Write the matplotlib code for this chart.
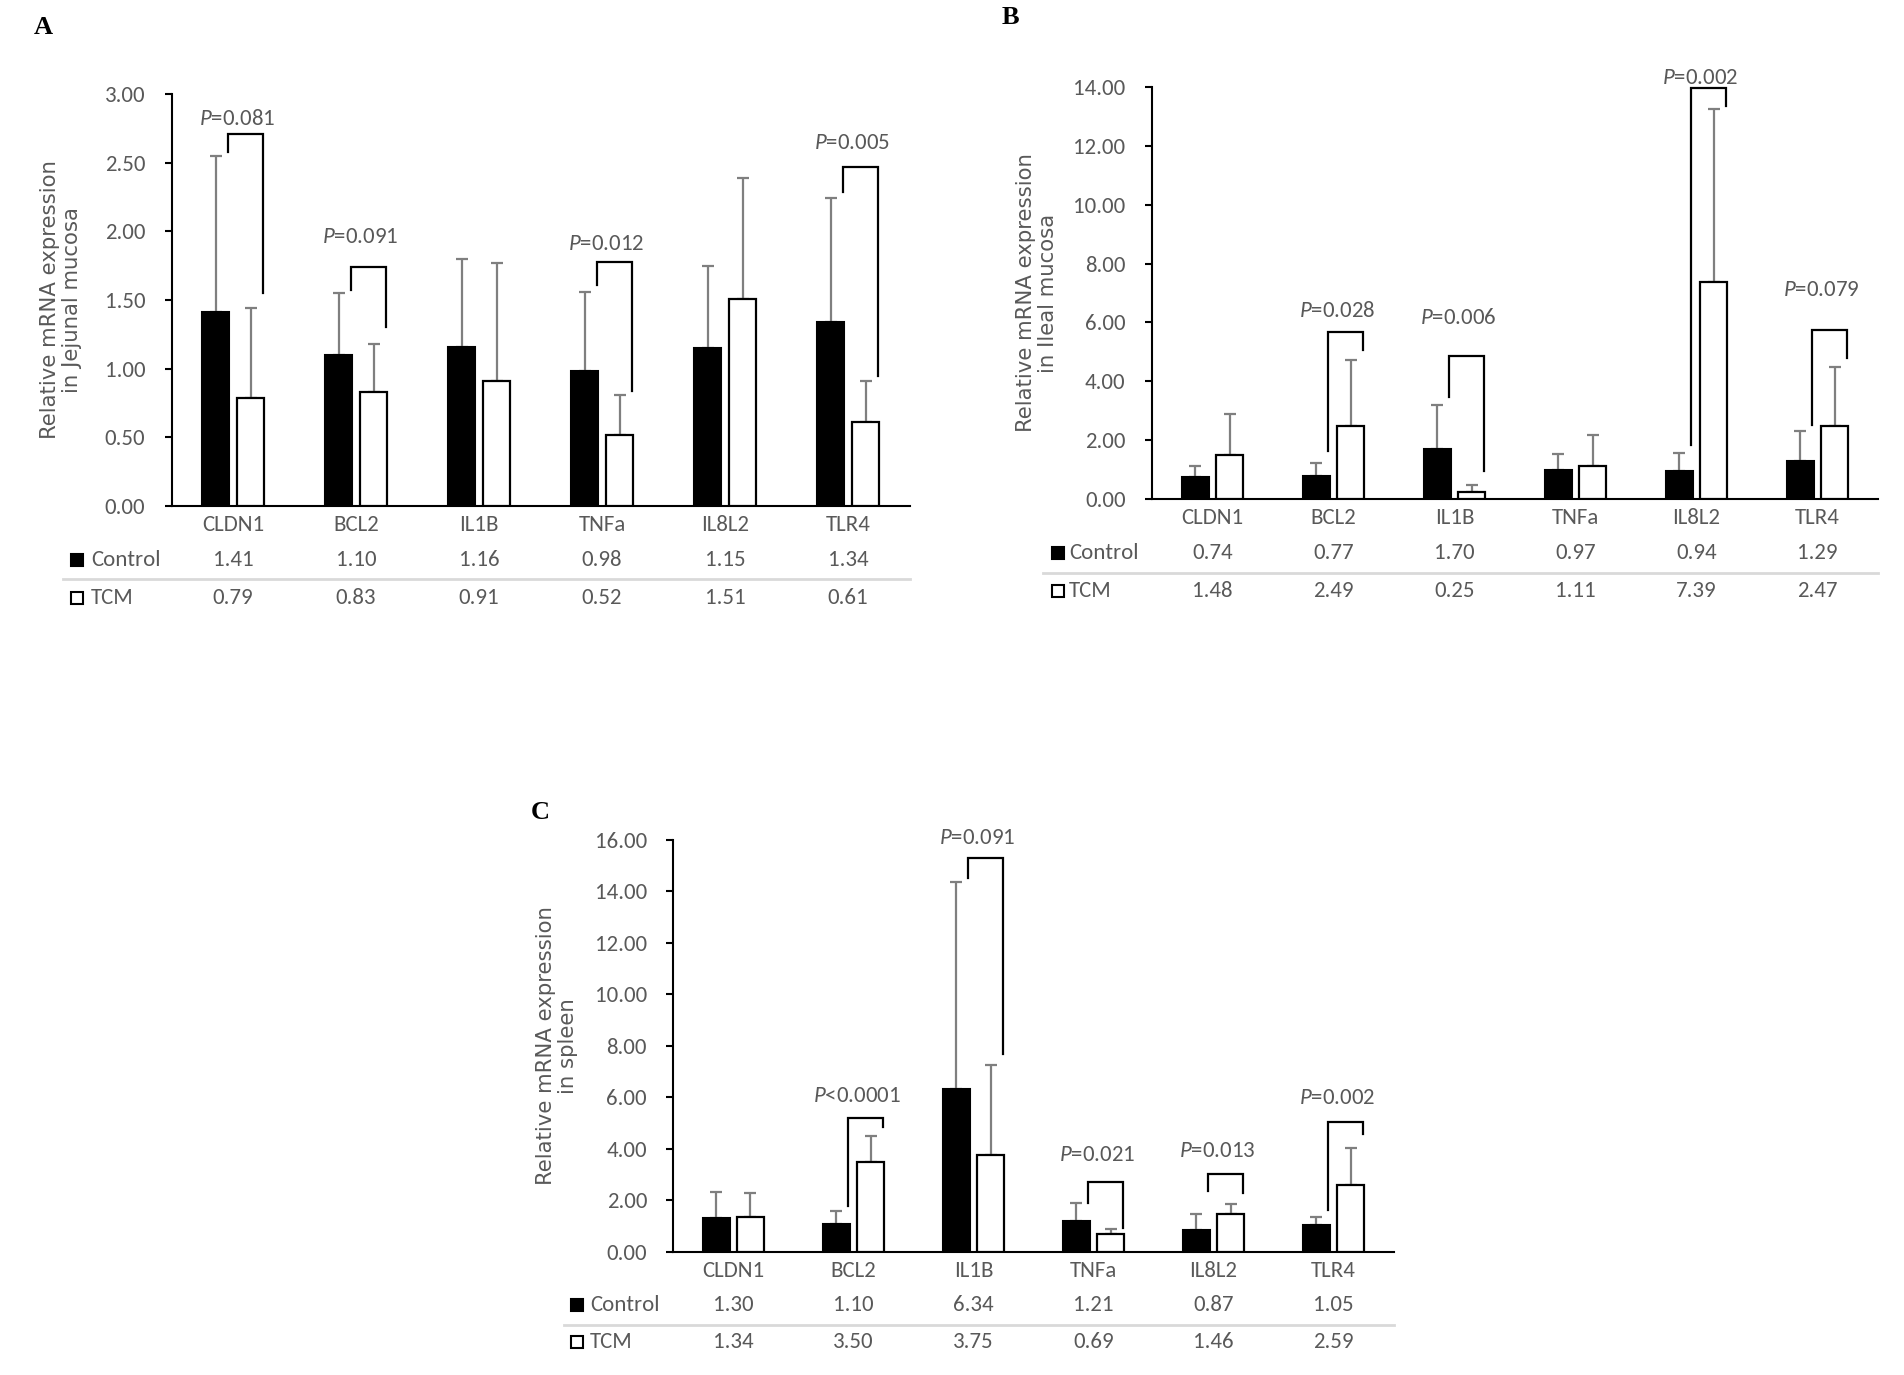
import matplotlib
matplotlib.use('Agg')
import matplotlib.pyplot as plt
import matplotlib.transforms as mtransforms
import numpy as np

plt.rcParams['mathtext.fontset'] = 'custom'
plt.rcParams['mathtext.it'] = 'Carlito:italic'
plt.rcParams['mathtext.rm'] = 'Carlito'

categories = ['CLDN1', 'BCL2', 'IL1B', 'TNFa', 'IL8L2', 'TLR4']
series_names = ['Control', 'TCM']

# ---- Panel A: Jejunal mucosa ----
a_control = [1.41, 1.10, 1.16, 0.98, 1.15, 1.34]
a_tcm = [0.79, 0.83, 0.91, 0.52, 1.51, 0.61]
a_control_top = [2.55, 1.55, 1.80, 1.56, 1.75, 2.24]
a_tcm_top = [1.44, 1.18, 1.77, 0.81, 2.39, 0.91]
a_br_idx = [0, 1, 3, 5]
a_br_top = [2.71, 1.74, 1.78, 2.47]
a_br_left = [2.58, 1.57, 1.61, 2.29]
a_br_right = [1.55, 1.30, 0.84, 0.95]
a_p_y = [2.82, 1.96, 1.91, 2.64]
a_p_text = ['=0.081', '=0.091', '=0.012', '=0.005']

# ---- Panel B: Ileal mucosa ----
b_control = [0.74, 0.77, 1.70, 0.97, 0.94, 1.29]
b_tcm = [1.48, 2.49, 0.25, 1.11, 7.39, 2.47]
b_control_top = [1.12, 1.24, 3.19, 1.52, 1.57, 2.32]
b_tcm_top = [2.89, 4.73, 0.49, 2.18, 13.27, 4.47]
b_br_idx = [1, 2, 4, 5]
b_br_top = [5.69, 4.87, 13.96, 5.73]
b_br_left = [1.62, 3.47, 1.83, 2.53]
b_br_right = [5.08, 0.96, 13.34, 4.78]
b_p_y = [6.39, 6.14, 14.30, 7.10]
b_p_text = ['=0.028', '=0.006', '=0.002', '=0.079']

# ---- Panel C: Spleen ----
c_control = [1.30, 1.10, 6.34, 1.21, 0.87, 1.05]
c_tcm = [1.34, 3.50, 3.75, 0.69, 1.46, 2.59]
c_control_top = [2.32, 1.58, 14.38, 1.89, 1.47, 1.37]
c_tcm_top = [2.29, 4.50, 7.26, 0.88, 1.87, 4.03]
c_br_idx = [1, 2, 3, 4, 5]
c_br_top = [5.21, 15.29, 2.73, 3.02, 5.06]
c_br_left = [1.77, 14.53, 1.92, 2.36, 1.62]
c_br_right = [4.84, 7.70, 0.93, 2.29, 4.57]
c_p_y = [6.05, 16.08, 3.76, 3.91, 5.97]
c_p_text = ['<0.0001', '=0.091', '=0.021', '=0.013', '=0.002']

GRAY = '#595959'
FONT = ['Carlito', 'DejaVu Sans']
FS = 16.5

fig = plt.figure(figsize=(19.04, 13.75), dpi=100)


def panel(rect, letter, letter_xy, ylabel, ylabel_x, ymax, ystep,
          control, tcm, control_top, tcm_top,
          br_idx, br_top, br_left, br_right, p_y, p_text,
          row_y, sep_y, leg_x, txt_x, sep_x0):
    ax = fig.add_axes(rect)
    x = np.arange(len(categories))
    w = 0.225
    off = 0.142
    cerr = np.array(control_top) - np.array(control)
    terr = np.array(tcm_top) - np.array(tcm)
    ax.errorbar(x - off, control, yerr=[np.zeros_like(cerr), cerr], fmt='none',
                ecolor='#7f7f7f', elinewidth=1.6, capsize=4, capthick=1.6, zorder=2)
    ax.errorbar(x + off, tcm, yerr=[np.zeros_like(terr), terr], fmt='none',
                ecolor='#7f7f7f', elinewidth=1.6, capsize=4, capthick=1.6, zorder=2)
    ax.bar(x - off, control, w, color='black', edgecolor='black', linewidth=1.5, zorder=3)
    ax.bar(x + off, tcm, w, color='white', edgecolor='black', linewidth=1.6, zorder=3)
    for i, t, l, r, py, pt in zip(br_idx, br_top, br_left, br_right, p_y, p_text):
        xl = i - off + 0.1
        xr = i + off + 0.1
        ax.plot([xl, xl, xr, xr], [l, t, t, r], color='black', linewidth=1.6,
                solid_joinstyle='miter', clip_on=False, zorder=4)
        ax.text(i + 0.03, py, r'$\mathit{P}$' + pt, ha='center', va='center',
                fontsize=FS, color=GRAY, family=FONT, clip_on=False)
    ax.set_xlim(-0.5, len(categories) - 0.5)
    ax.set_ylim(0, ymax)
    yt = np.arange(0, ymax + ystep / 2, ystep)
    ax.set_yticks(yt, ['%.2f' % v for v in yt])
    ax.set_xticks(x, categories)
    ax.tick_params(axis='both', labelsize=FS, labelcolor=GRAY)
    ax.tick_params(axis='y', length=5, width=1.5, pad=14)
    ax.tick_params(axis='x', length=0, pad=6.5)
    for lab in ax.get_xticklabels() + ax.get_yticklabels():
        lab.set_family(FONT)
    for s in ['top', 'right']:
        ax.spines[s].set_visible(False)
    ax.spines['left'].set_linewidth(1.5)
    ax.spines['bottom'].set_linewidth(1.5)
    ax.set_ylabel(ylabel, fontsize=15.3, color=GRAY, family='DejaVu Sans',
                  linespacing=1.15, va='center')
    ax.yaxis.set_label_coords(ylabel_x, 0.5)
    # data table beneath
    trans = mtransforms.blended_transform_factory(ax.transData, ax.transAxes)
    for vals, ry in zip([control, tcm], row_y):
        for xi, v in zip(x, vals):
            ax.text(xi, ry, '%.2f' % v, transform=trans, ha='center', va='center',
                    fontsize=FS, color=GRAY, family=FONT)
    for name, ry, fc in zip(series_names, row_y, ['black', 'white']):
        ax.plot([leg_x], [ry], marker='s', markersize=8.6, markerfacecolor=fc,
                markeredgecolor='black', markeredgewidth=1.5, transform=ax.transAxes,
                clip_on=False)
        ax.text(txt_x, ry, name, transform=ax.transAxes, ha='left', va='center',
                fontsize=FS, color=GRAY, family=FONT)
    ax.plot([sep_x0, 1.0], [sep_y, sep_y], color='#d9d9d9', linewidth=2,
            transform=ax.transAxes, clip_on=False)
    fig.text(letter_xy[0], letter_xy[1], letter, fontsize=19, fontweight='bold',
             family='Liberation Serif', ha='center', va='center')
    return ax


panel([0.0901, 0.6320, 0.3876, 0.2996], 'A', (0.0226, 0.980),
      'Relative mRNA expression\nin Jejunal mucosa', -0.150, 3.0, 0.5,
      a_control, a_tcm, a_control_top, a_tcm_top,
      a_br_idx, a_br_top, a_br_left, a_br_right, a_p_y, a_p_text,
      [-0.131, -0.223], -0.177, -0.128, -0.109, -0.147)

panel([0.6050, 0.6371, 0.3813, 0.2996], 'B', (0.5305, 0.987),
      'Relative mRNA expression\nin Ileal mucosa', -0.158, 14.0, 2.0,
      b_control, b_tcm, b_control_top, b_tcm_top,
      b_br_idx, b_br_top, b_br_left, b_br_right, b_p_y, b_p_text,
      [-0.131, -0.223], -0.180, -0.129, -0.114, -0.150)

panel([0.3537, 0.0895, 0.3782, 0.2996], 'C', (0.2836, 0.409),
      'Relative mRNA expression\nin spleen', -0.162, 16.0, 2.0,
      c_control, c_tcm, c_control_top, c_tcm_top,
      c_br_idx, c_br_top, c_br_left, c_br_right, c_p_y, c_p_text,
      [-0.129, -0.218], -0.177, -0.134, -0.116, -0.152)

fig.savefig('out.png', dpi=100)
